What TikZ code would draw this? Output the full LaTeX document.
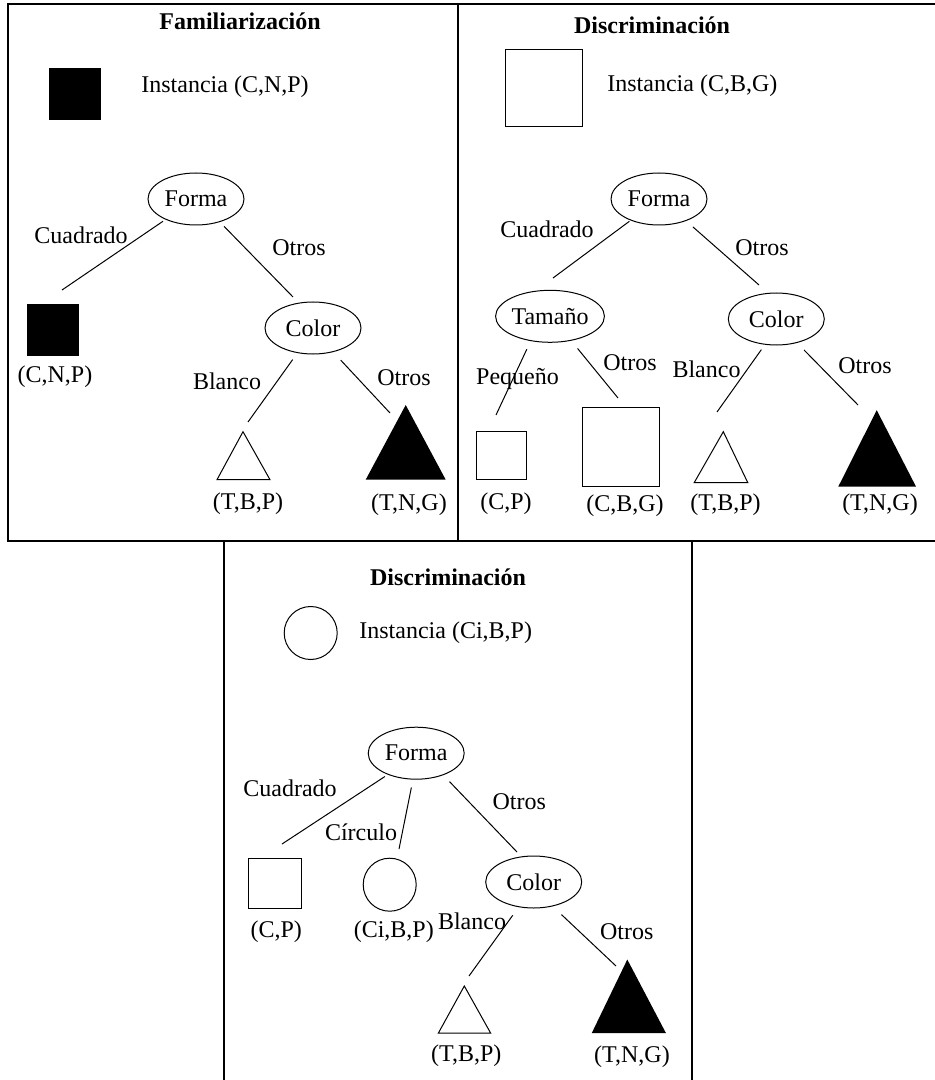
\documentclass[tikz,border=0pt]{standalone}
\usepackage{fontspec}
\setmainfont{Liberation Serif}
\usetikzlibrary{shapes.geometric}
\begin{document}
\begin{tikzpicture}[x=0.5pt, y=-0.5pt,
    font=\fontsize{12}{14}\selectfont,
    frame/.style={line width=0.7pt},
    edge/.style={line width=0.5pt},
    test/.style={draw, ellipse, line width=0.5pt, minimum width=48pt, minimum height=26pt, inner sep=0pt},
    lbl/.style={inner sep=0pt, text height=8.5pt, text depth=0pt},
    title/.style={lbl, font=\fontsize{12}{14}\selectfont\bfseries},
    sqbox/.style={draw, line width=0.5pt, inner sep=0pt},
    blkbox/.style={sqbox, fill=black},
    circbox/.style={draw, circle, line width=0.5pt, inner sep=0pt, minimum size=26.5pt}]

    \useasboundingbox (0,0) rectangle (935,1080);

    % Frames
    \draw[frame] (8,4) rectangle (458,541);
    \draw[frame] (458,4) rectangle (940,541);
    \draw[frame] (224,541) rectangle (692,1085);

    % ---------- Familiarizacion ----------
    \node[title] (f-title) at (240,21) {Familiarización};
    \node[blkbox, minimum size=25.5pt] (f-inst) at (74.5,94.5) {};
    \node[lbl, anchor=west] (f-insttxt) at (141,84) {Instancia (C,N,P)};

    \node[test] (f-forma) at (196,199) {Forma};
    \node[test] (f-color) at (313,328) {Color};

    % leaves
    \node[blkbox, minimum size=25.5pt] (f-cnp) at (52.5,330) {};
    \node[lbl] (f-cnptxt) at (55,374) {(C,N,P)};
    \fill[white] (243,431.7) -- (217,479.7) -- (270,479.7) -- cycle;
    \draw[edge] (243,431.7) -- (217,479.7) -- (270,479.7) -- cycle;
    \node[lbl] (f-tbptxt) at (248,500.5) {(T,B,P)};
    \fill (405.7,405) -- (365.7,479.7) -- (445.7,479.7) -- cycle;
    \node[lbl] (f-tngtxt) at (409,502.3) {(T,N,G)};

    % branch ends
    \coordinate (f-e1) at (62,290);
    \coordinate (f-e2) at (293,297);
    \coordinate (f-e3) at (248,422);
    \coordinate (f-e4) at (390,413);

    \draw[edge, shorten <=1.5pt] (f-forma.214) -- (f-e1);
    \draw[edge, shorten <=3pt] (f-forma.316) -- (f-e2);
    \draw[edge, shorten <=4pt] (f-color.238) -- (f-e3);
    \draw[edge, shorten <=5.5pt] (f-color.310) -- (f-e4);

    \node[lbl] (f-l1) at (81,235) {Cuadrado};
    \node[lbl] (f-l2) at (299,247) {Otros};
    \node[lbl] (f-l3) at (227,380.6) {Blanco};
    \node[lbl] (f-l4) at (404,376.5) {Otros};

    % ---------- Discriminacion 1 ----------
    \node[title] (d-title) at (652,25) {Discriminación};
    \node[sqbox, minimum size=38.5pt] (d-inst) at (543.6,88.3) {};
    \node[lbl, anchor=west] (d-insttxt) at (607,83.4) {Instancia (C,B,G)};

    \node[test] (d-forma) at (659,199) {Forma};
    \node[test] (d-tam) at (550,316.3) {Tamaño};
    \node[test] (d-color) at (776.3,319) {Color};

    % leaves
    \node[sqbox, minimum width=25pt, minimum height=24pt] (d-cp) at (501.7,455.7) {};
    \node[lbl] (d-cptxt) at (506,500.5) {(C,P)};
    \node[sqbox, minimum width=38.5pt, minimum height=39.6pt] (d-cbg) at (620.5,447) {};
    \node[lbl] (d-cbgtxt) at (625,503.3) {(C,B,G)};
    \draw[edge] (723.3,431.7) -- (694.3,482.5) -- (747.7,482.5) -- cycle;
    \node[lbl] (d-tbptxt) at (725.5,501.6) {(T,B,P)};
    \fill (876.7,410.2) -- (838.3,486.6) -- (916,486.6) -- cycle;
    \node[lbl] (d-tngtxt) at (880,501.6) {(T,N,G)};

    % branch ends
    \coordinate (d-e1) at (553,278);
    \coordinate (d-e2) at (759,285);
    \coordinate (d-e3) at (496,415);
    \coordinate (d-e4) at (618,398);
    \coordinate (d-e5) at (717,412);
    \coordinate (d-e6) at (858,405);

    \draw[edge, shorten <=0.7pt] (d-forma.217) -- (d-e1);
    \draw[edge, shorten <=4.5pt] (d-forma.321) -- (d-e2);
    \draw[edge, shorten <=4.5pt] (d-tam.232) -- (d-e3);
    \draw[edge, shorten <=5pt] (d-tam.311) -- (d-e4);
    \draw[edge, shorten <=3pt] (d-color.246) -- (d-e5);
    \draw[edge, shorten <=5pt] (d-color.311) -- (d-e6);

    \node[lbl] (d-l1) at (547,229.4) {Cuadrado};
    \node[lbl] (d-l2) at (762,246.8) {Otros};
    \node[lbl] (d-l3) at (517.5,376.4) {Pequeño};
    \node[lbl] (d-l4) at (630,361.5) {Otros};
    \node[lbl] (d-l5) at (706.5,368.5) {Blanco};
    \node[lbl] (d-l6) at (865,365) {Otros};

    % ---------- Discriminacion 2 ----------
    \node[title] (c-title) at (448,577.2) {Discriminación};
    \node[circbox] (c-inst) at (310.7,633) {};
    \node[lbl, anchor=west] (c-insttxt) at (359,629.5) {Instancia (Ci,B,P)};

    \node[test] (c-forma) at (416.2,753.2) {Forma};
    \node[test] (c-color) at (533.7,882) {Color};

    % leaves
    \node[sqbox, minimum width=26.3pt, minimum height=25pt] (c-cp) at (274.7,883.5) {};
    \node[lbl] (c-cptxt) at (276.3,929.2) {(C,P)};
    \node[circbox] (c-cibp) at (389.7,884.7) {};
    \node[lbl] (c-cibptxt) at (393.8,929.2) {(Ci,B,P)};
    \draw[edge] (464.3,986) -- (438.3,1033.2) -- (490.7,1033.2) -- cycle;
    \node[lbl] (c-tbptxt) at (466.3,1053.2) {(T,B,P)};
    \fill (627.3,959.5) -- (591.7,1033.2) -- (666,1033.2) -- cycle;
    \node[lbl] (c-tngtxt) at (632,1054.2) {(T,N,G)};

    % branch ends
    \coordinate (c-e1) at (282,844);
    \coordinate (c-e2) at (399,849);
    \coordinate (c-e3) at (517,852);
    \coordinate (c-e4) at (469,976);
    \coordinate (c-e5) at (616,966);

    \draw[edge, shorten <=1.7pt] (c-forma.217) -- (c-e1);
    \draw[edge, shorten <=4pt] (c-forma.263) -- (c-e2);
    \draw[edge, shorten <=4.5pt] (c-forma.321) -- (c-e3);
    \draw[edge, shorten <=5pt] (c-color.239) -- (c-e4);
    \draw[edge, shorten <=6pt] (c-color.308) -- (c-e5);

    \node[lbl] (c-l1) at (290,788) {Cuadrado};
    \node[lbl] (c-l2) at (361,832) {Círculo};
    \node[lbl] (c-l3) at (519.3,801) {Otros};
    \node[lbl] (c-l4) at (472,920.6) {Blanco};
    \node[lbl] (c-l5) at (626.7,930.9) {Otros};

\end{tikzpicture}
\end{document}
